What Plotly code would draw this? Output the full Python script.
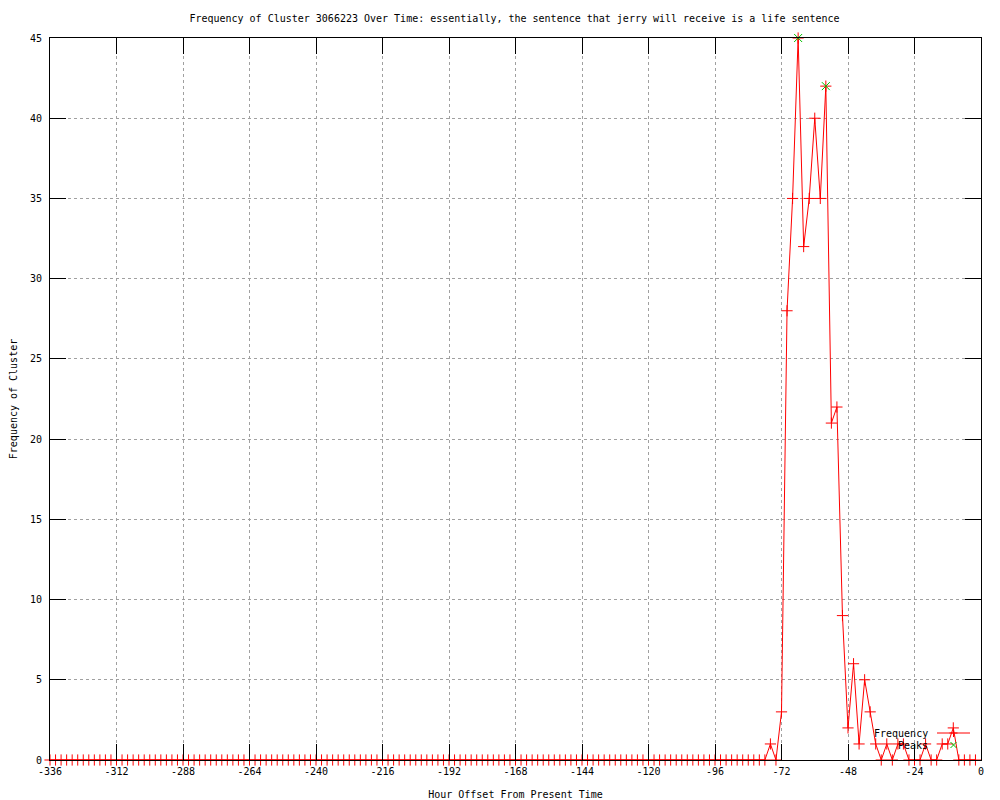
import plotly.graph_objects as go

# ---- data ----
hours = list(range(-336, 0, 2))  # hour offsets, every 2 hours from -336 to -2

frequency = [
    0, 0, 0, 0, 0, 0, 0, 0, 0, 0, 0, 0, 0, 0, 0, 0,   # -336 .. -306
    0, 0, 0, 0, 0, 0, 0, 0, 0, 0, 0, 0, 0, 0, 0, 0,   # -304 .. -274
    0, 0, 0, 0, 0, 0, 0, 0, 0, 0, 0, 0, 0, 0, 0, 0,   # -272 .. -242
    0, 0, 0, 0, 0, 0, 0, 0, 0, 0, 0, 0, 0, 0, 0, 0,   # -240 .. -210
    0, 0, 0, 0, 0, 0, 0, 0, 0, 0, 0, 0, 0, 0, 0, 0,   # -208 .. -178
    0, 0, 0, 0, 0, 0, 0, 0, 0, 0, 0, 0, 0, 0, 0, 0,   # -176 .. -146
    0, 0, 0, 0, 0, 0, 0, 0, 0, 0, 0, 0, 0, 0, 0, 0,   # -144 .. -114
    0, 0, 0, 0, 0, 0, 0, 0, 0, 0, 0, 0, 0, 0, 0, 0,   # -112 .. -82
    0,                                                # -80
    0, 1, 0, 3, 28, 35, 45, 32, 35, 40, 35, 42, 21,   # -78 .. -54
    22, 9, 2, 6, 1, 5, 3, 1, 0, 1, 0, 1, 1,           # -52 .. -28
    0, 0, 0, 1, 0, 0, 1, 1, 2, 0, 0, 0, 0,            # -26 .. -2
]

peak_hours = [-66, -56]
peak_values = [45, 42]

x_tickvals = [-336, -312, -288, -264, -240, -216, -192, -168, -144, -120, -96, -72, -48, -24, 0]
x_ticktext = ["-336", "-312", "-288", "-264", "-240", "-216", "-192", "-168", "-144",
              "-120", "-96", "-72", "-48", "-24", "0"]
y_tickvals = [0, 5, 10, 15, 20, 25, 30, 35, 40, 45]
y_ticktext = ["0", "5", "10", "15", "20", "25", "30", "35", "40", "45"]

title_text = ("Frequency of Cluster 3066223 Over Time: essentially, "
              "the sentence that jerry will receive is a life sentence")

FONT = "DejaVu Sans Mono"
RED = "#ff0000"
GREEN = "#00c000"

fig = go.Figure()
fig.add_trace(go.Scatter(
    x=hours, y=frequency, mode="lines+markers", name="Frequency",
    line=dict(color=RED, width=1),
    marker=dict(symbol="cross-thin", size=8, line=dict(color=RED, width=1), color=RED),
    cliponaxis=False, showlegend=False,
))
fig.add_trace(go.Scatter(
    x=peak_hours, y=peak_values, mode="markers", name="Peaks",
    marker=dict(symbol="x-thin", size=8, line=dict(color=GREEN, width=1), color=GREEN),
    cliponaxis=False, showlegend=False,
))

# plot area in pixels
L, R, T, B = 50, 981, 38, 760
W, H = 1000, 800
def px(xp):
    return (xp - L) / (R - L)
def py(yp):
    return (B - yp) / (B - T)

axis_common = dict(
    showline=True, linecolor="black", linewidth=1, mirror="allticks",
    ticks="inside", ticklen=16, tickwidth=1, tickcolor="black",
    showgrid=True, gridcolor="#a0a0a0", gridwidth=1, griddash="3px,3px",
    zeroline=False, tickfont=dict(family=FONT, size=10, color="black"),
    title_font=dict(family=FONT, size=10, color="black"),
    layer="above traces",
)

fig.update_xaxes(
    range=[-336, 0], tickmode="array", tickvals=x_tickvals, ticktext=x_ticktext,
    title_text="Hour Offset From Present Time", title_standoff=14,
    ticklabelstandoff=2, **axis_common,
)
fig.update_yaxes(
    range=[0, 45], tickmode="array", tickvals=y_tickvals, ticktext=y_ticktext,
    title_text="Frequency of Cluster", title_standoff=10,
    ticklabelstandoff=5, **axis_common,
)

# manual gnuplot-style legend (text left, sample right)
annotations = [
    dict(text="Frequency", x=px(930), y=py(733), xref="paper", yref="paper",
         xanchor="right", yanchor="middle", showarrow=False,
         font=dict(family=FONT, size=10, color="black")),
    dict(text="Peaks", x=px(930), y=py(745), xref="paper", yref="paper",
         xanchor="right", yanchor="middle", showarrow=False,
         font=dict(family=FONT, size=10, color="black")),
]
shapes = [
    dict(type="line", xref="paper", yref="paper", x0=px(937), x1=px(970),
         y0=py(733), y1=py(733), line=dict(color=RED, width=1)),
    dict(type="line", xref="paper", yref="paper", xsizemode="pixel", ysizemode="pixel",
         xanchor=px(953.5), yanchor=py(733), x0=-4, x1=4, y0=0, y1=0,
         line=dict(color=RED, width=1)),
    dict(type="line", xref="paper", yref="paper", xsizemode="pixel", ysizemode="pixel",
         xanchor=px(953.5), yanchor=py(733), x0=0, x1=0, y0=-4, y1=4,
         line=dict(color=RED, width=1)),
    dict(type="line", xref="paper", yref="paper", xsizemode="pixel", ysizemode="pixel",
         xanchor=px(953.5), yanchor=py(745), x0=-3, x1=3, y0=-3, y1=3,
         line=dict(color=GREEN, width=1)),
    dict(type="line", xref="paper", yref="paper", xsizemode="pixel", ysizemode="pixel",
         xanchor=px(953.5), yanchor=py(745), x0=-3, x1=3, y0=3, y1=-3,
         line=dict(color=GREEN, width=1)),
]

fig.update_layout(
    width=W, height=H,
    margin=dict(l=L, r=W - R, t=T, b=H - B, autoexpand=False),
    paper_bgcolor="white", plot_bgcolor="white",
    title=dict(text=title_text, x=px(514.5), xref="paper", xanchor="center",
               y=1 - 18 / H, yref="container", yanchor="middle",
               font=dict(family=FONT, size=10, color="black")),
    annotations=annotations, shapes=shapes,
    showlegend=False,
)

fig.write_html("out.html",
               config={"displayModeBar": False},
               post_script="document.body.style.margin='0';document.body.style.padding='0';")
